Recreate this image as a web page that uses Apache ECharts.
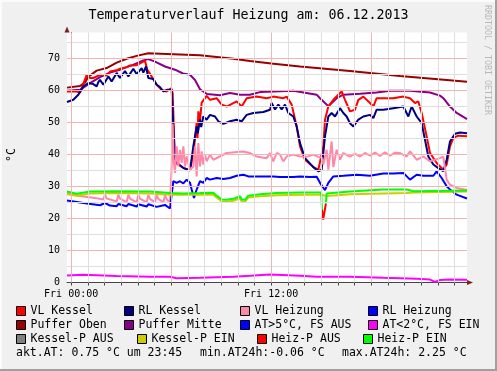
<!DOCTYPE html>
<html><head><meta charset="utf-8">
<script src="https://cdn.jsdelivr.net/npm/echarts@6/dist/echarts.min.js"></script>
<style>html,body{margin:0;padding:0;background:#f0f0f0}#c{width:497px;height:371px}</style>
</head><body><div id="c"></div>
<script>
// ---------- data ----------
const titleText = 'Temperaturverlauf Heizung am: 06.12.2013';
const xLabelHours = [0, 12];
const xLabelText = {0: 'Fri 00:00', 12: 'Fri 12:00'};
const xTickHours = [0,1,2,3,4,5,6,7,8,9,10,11,12,13,14,15,16,17,18,19,20,21,22,23];
const majorHours = [0, 6, 12, 18];
const minorHours = [1,2,3,4,5,7,8,9,10,11,13,14,15,16,17,19,20,21,22,23];
const yLabelValues = [0, 10, 20, 30, 40, 50, 60, 70];
const yTickValues = [0,5,10,15,20,25,30,35,40,45,50,55,60,65,70,75];
const yMajorValues = [10, 20, 30, 40, 50, 60, 70];
const yMinorValues = [5, 15, 25, 35, 45, 55, 65, 75];

const pufferOben = [[-0.25,60.8],[0.53,61.3],[0.85,62.5],[1.01,64.1],[1.53,66.1],[2.13,66.9],[2.73,68.6],[3.33,69.8],[3.93,70.7],[4.63,71.5],[5.73,71.3],[7.73,70.9],[9.73,69.8],[10.73,69.1],[12.0,68.3],[13.73,67.4],[16.73,66.0],[19.73,64.4],[23.75,62.6]];

const pufferMitte = [[-0.25,59.8],[0.53,60.1],[1.13,62.2],[1.73,64.1],[2.33,65.5],[2.93,66.4],[3.71,67.9],[4.33,69.3],[4.63,69.7],[5.03,68.9],[5.63,67.4],[6.23,66.4],[6.71,65.2],[7.13,64.8],[7.43,63.2],[7.73,60.3],[8.15,58.8],[8.93,58.4],[9.53,59.1],[10.13,58.6],[10.73,58.6],[11.33,59.4],[13.33,59.8],[14.73,58.6],[14.93,57.5],[15.23,56.0],[15.43,55.0],[15.63,56.0],[15.93,57.5],[16.33,58.6],[17.33,58.9],[18.33,59.3],[19.13,59.8],[20.33,59.8],[21.53,59.3],[22.13,58.3],[22.33,57.5],[22.73,54.9],[23.13,52.9],[23.75,51.0]];

const vlKessel = [[-0.25,59.6],[0.33,59.6],[0.53,59.2],[0.73,62.0],[0.93,64.8],[1.13,63.8],[1.33,63.8],[1.73,64.8],[2.13,64.6],[2.33,65.8],[2.73,66.2],[2.93,66.7],[3.33,67.2],[3.53,67.7],[3.93,67.8],[4.13,68.4],[4.43,69.2],[4.57,66.4],[4.83,64.3],[5.13,61.7],[5.43,60.1],[5.73,59.6],[6.0,60.6],[6.09,59.0],[6.23,37.4],[6.73,35.8],[7.13,35.0],[7.33,40.0],[7.53,49.8],[7.58,45.0],[7.63,53.4],[7.73,50.5],[7.83,56.1],[8.13,58.2],[8.33,57.0],[8.73,57.5],[9.03,55.5],[9.33,54.9],[9.93,56.5],[10.23,54.9],[10.53,57.5],[11.13,58.0],[11.73,57.5],[12.13,58.0],[12.73,57.5],[12.93,58.0],[13.23,55.5],[13.53,48.7],[13.73,42.5],[14.03,38.3],[14.53,36.0],[14.83,35.2],[14.93,34.7],[15.13,42.5],[15.23,50.8],[15.43,54.9],[15.73,57.0],[16.03,58.6],[16.23,59.6],[16.43,57.0],[16.73,53.4],[17.03,53.9],[17.23,57.0],[17.53,58.0],[17.93,56.0],[18.13,54.9],[18.33,57.5],[18.73,57.5],[19.33,57.5],[19.93,58.0],[20.33,57.5],[20.63,56.0],[20.83,56.5],[21.03,52.9],[21.33,45.6],[21.53,40.4],[21.93,37.3],[22.33,35.2],[22.53,36.8],[22.73,42.5],[22.93,45.1],[23.23,45.8],[23.75,45.6]];

const rlKessel = [[-0.25,56.3],[0.13,57.0],[0.43,58.6],[0.73,61.2],[1.03,62.2],[1.33,61.9],[1.53,61.2],[1.63,62.5],[1.73,63.2],[1.93,61.7],[2.23,64.3],[2.43,62.7],[2.73,65.4],[2.93,63.8],[3.23,66.0],[3.43,64.3],[3.73,66.7],[3.93,65.0],[4.23,66.9],[4.33,65.5],[4.49,67.4],[4.63,63.8],[4.93,63.5],[5.13,61.7],[5.33,61.0],[5.53,59.6],[5.73,60.1],[6.03,60.1],[6.13,48.2],[6.23,37.8],[6.73,35.7],[7.13,35.0],[7.33,42.5],[7.53,48.7],[7.6,46.5],[7.73,50.8],[7.8,48.5],[7.93,51.8],[8.13,50.8],[8.33,52.3],[8.63,51.8],[8.83,50.3],[9.13,49.5],[9.53,50.3],[9.93,50.8],[10.23,50.3],[10.53,52.3],[10.93,52.9],[11.53,53.2],[11.93,53.9],[12.03,56.0],[12.23,54.0],[12.43,55.5],[12.63,54.0],[12.83,55.5],[13.03,52.9],[13.33,51.8],[13.53,48.7],[13.73,43.5],[14.03,38.8],[14.53,36.0],[14.83,34.7],[15.03,35.2],[15.23,45.6],[15.43,51.8],[15.63,52.9],[15.83,51.8],[16.13,54.4],[16.33,52.9],[16.53,51.8],[16.73,49.7],[16.93,48.7],[17.23,50.8],[17.53,51.8],[17.93,52.3],[18.13,51.3],[18.33,53.9],[18.73,53.9],[19.33,54.4],[19.93,54.9],[20.23,51.8],[20.43,54.9],[20.73,51.8],[21.03,49.7],[21.23,44.5],[21.43,39.3],[21.73,36.8],[22.03,35.7],[22.33,34.7],[22.53,38.3],[22.73,44.0],[23.03,46.4],[23.33,46.8],[23.75,46.6]];

const vlHeizung = [[-0.25,27.9],[0.53,27.0],[1.53,26.3],[1.93,25.9],[2.03,27.4],[2.13,26.2],[2.73,25.3],[2.83,27.4],[2.93,26.2],[3.33,25.1],[3.43,27.4],[3.53,26.2],[3.93,25.0],[4.03,27.4],[4.13,26.2],[4.53,25.0],[4.63,27.3],[4.73,26.1],[5.03,25.0],[5.13,27.3],[5.23,26.1],[5.53,25.0],[5.63,27.2],[5.73,26.0],[5.93,24.8],[6.03,36.0],[6.09,49.5],[6.15,38.0],[6.23,34.2],[6.33,42.5],[6.43,36.2],[6.53,41.4],[6.63,37.3],[6.73,42.5],[6.83,36.2],[6.93,39.3],[7.13,35.2],[7.33,36.2],[7.43,42.5],[7.53,33.1],[7.63,43.5],[7.73,36.2],[7.83,40.9],[7.93,36.8],[8.03,39.9],[8.13,37.8],[8.33,39.9],[8.53,38.3],[9.33,40.4],[10.33,40.9],[10.73,40.4],[11.13,39.3],[11.73,38.8],[11.93,40.4],[12.13,37.8],[12.33,40.4],[12.53,39.9],[12.73,37.8],[12.93,39.3],[13.33,39.9],[13.73,39.3],[14.13,39.2],[14.53,39.9],[14.83,39.2],[15.03,39.0],[15.13,36.8],[15.33,41.4],[15.43,35.2],[15.63,44.0],[15.73,36.0],[15.93,41.4],[16.13,38.3],[16.33,40.4],[16.73,39.3],[17.03,40.2],[17.33,39.3],[17.63,40.4],[17.93,39.6],[18.23,40.5],[18.53,39.5],[18.83,40.6],[19.13,39.6],[19.43,40.5],[19.73,40.4],[20.13,39.3],[20.33,40.9],[20.73,38.3],[21.13,39.3],[21.53,37.8],[22.13,38.8],[22.33,39.3],[22.53,32.1],[22.73,30.5],[23.13,29.5],[23.75,28.9]];

const rlHeizung = [[-0.25,25.6],[0.73,24.8],[1.73,24.1],[2.03,24.8],[2.33,24.0],[2.73,23.8],[2.83,24.5],[3.33,23.8],[3.43,24.5],[3.93,23.7],[4.03,24.4],[4.53,23.7],[4.63,24.4],[5.13,23.6],[5.63,24.2],[5.93,23.1],[6.03,23.3],[6.13,31.6],[6.33,31.1],[6.53,31.6],[6.73,30.9],[6.93,32.1],[7.13,31.1],[7.23,29.0],[7.37,26.4],[7.53,29.0],[7.73,31.6],[7.93,31.1],[8.13,32.6],[8.33,32.1],[8.73,32.6],[9.13,32.3],[9.53,32.6],[9.93,33.3],[10.33,33.6],[10.63,33.1],[11.33,33.1],[12.13,33.1],[12.23,32.6],[12.53,32.9],[13.33,32.9],[13.73,33.1],[14.33,32.9],[14.73,33.0],[14.93,31.1],[15.23,28.8],[15.43,31.1],[15.73,33.1],[16.33,33.3],[17.13,33.6],[17.93,33.3],[18.73,34.0],[19.33,34.0],[19.93,34.2],[20.33,32.1],[20.73,33.6],[21.13,33.3],[21.73,33.3],[21.93,34.7],[22.23,32.6],[22.53,30.0],[22.73,29.0],[23.13,27.4],[23.75,26.2]];

const kesselPEin = [[-0.25,27.5],[0.33,27.1],[1.13,27.8],[2.73,27.9],[4.73,27.8],[5.93,27.4],[7.73,27.4],[8.53,27.4],[8.73,26.5],[9.03,25.3],[9.33,25.2],[9.73,25.5],[10.13,26.3],[10.23,25.3],[10.43,25.2],[10.63,26.5],[11.33,26.9],[12.33,27.2],[13.73,27.4],[15.0,27.4],[15.33,27.0],[16.73,27.5],[18.73,27.8],[20.13,27.9],[20.53,28.1],[23.75,28.4]];

const heizPEin = [[-0.25,28.4],[0.33,27.7],[1.13,28.4],[2.73,28.5],[4.73,28.4],[5.93,27.9],[6.73,27.8],[7.73,27.9],[8.53,28.0],[8.73,27.1],[9.03,25.9],[9.33,25.8],[9.73,26.1],[10.13,26.9],[10.23,25.9],[10.43,25.8],[10.63,27.1],[11.33,27.5],[12.33,27.9],[13.73,28.1],[15.0,28.1],[15.05,22.7],[15.15,'-'],[15.28,24.5],[15.33,27.8],[16.73,28.4],[18.73,29.0],[20.13,29.0],[20.53,28.5],[23.75,28.7]];

const heizPAus = [[15.05,22.7],[15.12,19.6],[15.2,19.8],[15.28,24.5]];

const atKalt = [[-0.25,2.2],[0.73,2.4],[2.73,2.0],[4.73,1.8],[5.93,1.8],[6.33,1.35],[7.73,1.5],[9.73,1.8],[10.73,2.1],[11.93,2.5],[13.73,2.1],[14.73,1.8],[16.73,1.8],[18.73,1.45],[20.73,1.15],[21.53,0.9],[21.83,0.2],[22.13,0.8],[22.73,0.9],[23.75,0.85]];
const atWarm = [];
const kesselPAus = [];

const legendRows = [
  ['VL Kessel', 'RL Kessel', 'VL Heizung', 'RL Heizung'],
  ['Puffer Oben', 'Puffer Mitte', 'AT>5°C, FS AUS', 'AT<2°C, FS EIN'],
  ['Kessel-P AUS', 'Kessel-P EIN', 'Heiz-P AUS', 'Heiz-P EIN']
];
const footerTexts = ['akt.AT: 0.75 °C um 23:45', 'min.AT24h:-0.06 °C', 'max.AT24h: 2.25 °C'];

// ---------- layout / style ----------
const FONT = '"DejaVu Sans Mono", "Liberation Mono", monospace';
const G = {left: 67, top: 32.5, width: 400, height: 250};
const legendX = [[16, 124, 240, 368], [16, 124, 240, 368], [16, 137, 257, 363]];
const legendY = [311, 325, 339];
const footerX = [16, 200, 342];
const footerY = 353;
const colors = {
  'VL Kessel': '#FF0000', 'RL Kessel': '#000080', 'VL Heizung': '#FF88AA', 'RL Heizung': '#0000FF',
  'Puffer Oben': '#990000', 'Puffer Mitte': '#880088', 'AT>5°C, FS AUS': '#0000FF', 'AT<2°C, FS EIN': '#FF00FF',
  'Kessel-P AUS': '#808080', 'Kessel-P EIN': '#CCCC00', 'Heiz-P AUS': '#FF0000', 'Heiz-P EIN': '#00FF00'
};

function line(name, data, z) {
  const c = colors[name];
  return {type: 'line', name, data, z, color: c, showSymbol: false, symbol: 'none',
    lineStyle: {color: c, width: 2}, itemStyle: {color: c}, silent: true, animation: false,
    connectNulls: false, emphasis: {disabled: true}};
}

const gridLines = [].concat(
  minorHours.map(h => ({xAxis: h, lineStyle: {color: '#dedede'}})),
  yMinorValues.map(v => ({yAxis: v, lineStyle: {color: '#dedede'}})),
  majorHours.map(h => ({xAxis: h, lineStyle: {color: '#f4b4b4'}})),
  yMajorValues.map(v => ({yAxis: v, lineStyle: {color: '#f4b4b4'}}))
);

const series = [
  {type: 'line', name: '_grid', data: [], z: 1, silent: true, animation: false,
   markLine: {silent: true, animation: false, symbol: ['none', 'none'], label: {show: false},
     lineStyle: {type: 'solid', width: 1}, emphasis: {disabled: true}, data: gridLines}},
  line('Puffer Oben', pufferOben, 2),
  line('Puffer Mitte', pufferMitte, 2),
  line('VL Kessel', vlKessel, 2),
  line('RL Kessel', rlKessel, 2),
  line('VL Heizung', vlHeizung, 2),
  line('RL Heizung', rlHeizung, 2),
  line('AT>5°C, FS AUS', atWarm, 2),
  line('Kessel-P AUS', kesselPAus, 2),
  line('Kessel-P EIN', kesselPEin, 2),
  line('Heiz-P EIN', heizPEin, 2),
  line('Heiz-P AUS', heizPAus, 2),
  line('AT<2°C, FS EIN', atKalt, 2)
];

const legends = [];
legendRows.forEach((row, r) => row.forEach((name, i) => {
  legends.push({data: [name], left: legendX[r][i], top: legendY[r] - 6.5, padding: 0,
    icon: 'rect', itemWidth: 9, itemHeight: 9, selectedMode: false,
    itemStyle: {borderColor: '#000', borderWidth: 1},
    textStyle: {fontFamily: FONT, fontSize: 11.5, color: '#000', lineHeight: 13}});
}));

const axisColor = '#444';
const arrowColor = '#7F1F1F';
const graphics = [
  {type: 'rect', shape: {x: 0, y: 0, width: 497, height: 2}, style: {fill: '#fbfbfb'}, silent: true},
  {type: 'rect', shape: {x: 0, y: 0, width: 2, height: 371}, style: {fill: '#fbfbfb'}, silent: true},
  {type: 'rect', shape: {x: 495, y: 0, width: 2, height: 371}, style: {fill: '#a0a0a0'}, silent: true},
  {type: 'rect', shape: {x: 0, y: 369, width: 497, height: 2}, style: {fill: '#a0a0a0'}, silent: true},
  {type: 'polygon', z: 100, shape: {points: [[G.left, G.top - 6], [G.left - 2.5, G.top], [G.left + 2.5, G.top]]}, style: {fill: arrowColor}, silent: true},
  {type: 'polygon', z: 100, shape: {points: [[G.left + G.width + 6, G.top + G.height], [G.left + G.width, G.top + G.height - 2.5], [G.left + G.width, G.top + G.height + 2.5]]}, style: {fill: arrowColor}, silent: true},
  {type: 'text', x: 12, y: 155, rotation: Math.PI / 2, silent: true,
   style: {text: '°C', fontFamily: FONT, fontSize: 11.5, fill: '#000', align: 'center', verticalAlign: 'middle'}},
  {type: 'text', x: 487, y: 5, rotation: -Math.PI / 2, silent: true,
   style: {text: 'RRDTOOL / TOBI OETIKER', fontFamily: FONT, fontSize: 8.3, fill: '#b8b8b8', align: 'left', verticalAlign: 'middle'}}
];
footerTexts.forEach((t, i) => graphics.push({type: 'text', x: footerX[i], y: footerY, silent: true,
  style: {text: t, fontFamily: FONT, fontSize: 11.5, fill: '#000', align: 'left', verticalAlign: 'middle'}}));

const chart = echarts.init(document.getElementById('c'), null, {renderer: 'canvas'});
chart.setOption({
  animation: false,
  backgroundColor: '#f0f0f0',
  title: {text: titleText, left: 'center', top: 9, padding: 0,
    textStyle: {fontFamily: FONT, fontSize: 13.3, fontWeight: 'normal', color: '#000'}},
  grid: {left: G.left, top: G.top, width: G.width, height: G.height, show: true,
    backgroundColor: '#ffffff', borderWidth: 0, containLabel: false},
  legend: legends,
  xAxis: {type: 'value', min: -0.25, max: 23.75,
    axisLine: {show: true, onZero: false, lineStyle: {color: axisColor, width: 1}},
    axisTick: {show: true, customValues: xTickHours, length: 3, lineStyle: {color: axisColor}},
    axisLabel: {customValues: xLabelHours, formatter: v => xLabelText[v] || '',
      fontFamily: FONT, fontSize: 10, color: '#000', margin: 7},
    splitLine: {show: false}},
  yAxis: {type: 'value', min: 0, max: 78,
    axisLine: {show: true, lineStyle: {color: axisColor, width: 1}},
    axisTick: {show: true, customValues: yTickValues, length: 3, lineStyle: {color: axisColor}},
    axisLabel: {customValues: yLabelValues, fontFamily: FONT, fontSize: 10, color: '#000', margin: 7},
    splitLine: {show: false}},
  graphic: graphics,
  series
});
</script></body></html>
